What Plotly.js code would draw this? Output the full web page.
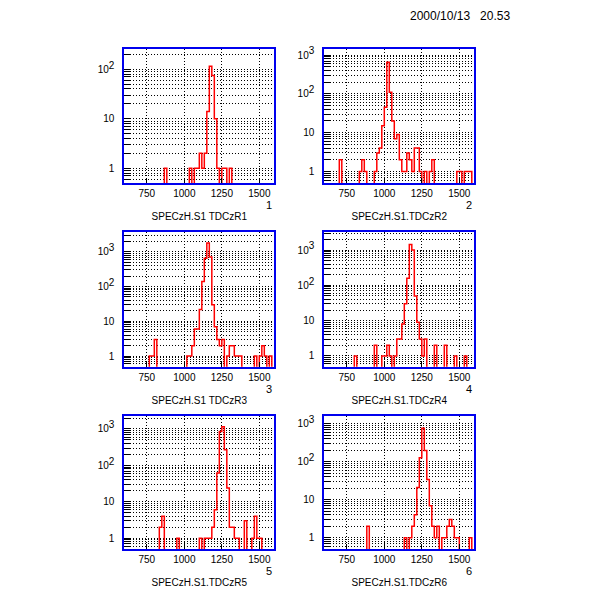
<!DOCTYPE html>
<html>
<head>
<meta charset="utf-8">
<script src="https://cdn.plot.ly/plotly-3.0.1.min.js"></script>
<style>
  body { margin: 0; background: #fff; }
  #chart { width: 600px; height: 600px; }
</style>
</head>
<body>
<div id="chart"></div>
<script>
// histogram binning (60 bins over the plotted range)
const binLo = 600;
const binHi = 1600;
const nBins = 60;

const xTickVals = [750, 1000, 1250, 1500];
const panelTitles = [
    'SPECzH.S1 TDCzR1', 'SPECzH.S1.TDCzR2',
    'SPECzH.S1 TDCzR3', 'SPECzH.S1.TDCzR4',
    'SPECzH.S1.TDCzR5', 'SPECzH.S1.TDCzR6'
];
const panelNumbers = ['1', '2', '3', '4', '5', '6'];
const dateStamp = '2000/10/13\u00a0\u00a0\u00a020.53';

// counts per bin
const countsR1 = [
    0, 0, 0, 0, 0, 0, 0, 0, 0, 0,
    0, 0, 0, 0, 0, 0, 1, 0, 0, 0,
    0, 0, 0, 0, 0, 0, 1, 0, 1, 1,
    2, 1, 2, 14, 115, 75, 10, 1, 0, 1,
    1, 0, 1, 0, 0, 0, 0, 0, 0, 0,
    0, 0, 0, 0, 0, 0, 0, 0, 0, 0
];
const countsR2 = [
    0, 0, 0, 0, 0, 0, 2, 0, 0, 0,
    0, 0, 0, 0, 1, 2, 1, 0, 0, 0,
    1, 3, 4, 15, 45, 650, 110, 20, 7, 9,
    2, 1, 1, 3, 2, 1, 4, 4, 1, 0,
    1, 0, 1, 2, 0, 0, 0, 0, 0, 0,
    0, 0, 0, 1, 1, 0, 1, 1, 1, 0
];
const countsR3 = [
    0, 0, 0, 0, 0, 0, 0, 0, 0, 0,
    1, 1, 3, 0, 0, 0, 0, 0, 0, 0,
    0, 0, 0, 0, 0, 1, 1, 2, 6, 6,
    22, 140, 650, 1770, 700, 30, 7, 3, 2, 3,
    0, 1, 2, 2, 1, 1, 1, 0, 0, 0,
    0, 0, 1, 0, 1, 2, 1, 0, 1, 0
];
const countsR4 = [
    0, 0, 0, 0, 0, 0, 0, 0, 0, 0,
    0, 0, 1, 0, 0, 0, 0, 0, 0, 0,
    2, 0, 0, 1, 1, 2, 1, 0, 1, 3,
    3, 8, 30, 160, 1450, 1000, 50, 9, 3, 1,
    3, 0, 0, 0, 2, 0, 0, 0, 2, 0,
    0, 0, 1, 0, 0, 0, 1, 0, 0, 0
];
const countsR5 = [
    0, 0, 0, 0, 0, 0, 0, 0, 0, 0,
    0, 0, 0, 0, 2, 4, 0, 0, 0, 0,
    0, 1, 0, 0, 0, 0, 0, 0, 0, 0,
    1, 0, 1, 1, 1, 2, 6, 62, 850, 1150,
    270, 24, 2, 2, 1, 1, 0, 0, 3, 0,
    0, 1, 4, 1, 1, 0, 0, 0, 0, 0
];
const countsR6 = [
    0, 0, 0, 0, 0, 0, 0, 0, 0, 0,
    0, 0, 0, 0, 0, 0, 0, 2, 0, 0,
    0, 0, 0, 0, 0, 0, 0, 0, 0, 0,
    0, 0, 1, 0, 1, 2, 4, 21, 127, 770,
    200, 34, 7, 2, 1, 2, 0, 1, 1, 2,
    3, 2, 1, 1, 0, 0, 0, 0, 1, 0
];
const panelCounts = [countsR1, countsR2, countsR3, countsR4, countsR5, countsR6];

// log10 of the top of each y axis (bottom is 0.5 for all)
const yTops = [2.41, 3.155, 3.575, 3.52, 3.37, 3.22];
const yBottom = -0.305;

// frame positions in paper coords
const colDomains = [[0.2072, 0.4572], [0.5405, 0.7905]];
const rowDomains = [[0.6945, 0.9183], [0.3888, 0.6138], [0.0845, 0.3075]];

const frameColor = '#0000ee';
const fontFamily = 'Liberation Sans, Arial, sans-serif';

// Build step line for a histogram (empty bins drop below the axis)
function histTrace(counts, idx) {
    const step = (binHi - binLo) / nBins;
    const xs = [];
    const ys = [];
    for (let i = 0; i < counts.length; i++) {
        xs.push(binLo + i * step);
        ys.push(counts[i] > 0 ? counts[i] : 0.01);
    }
    xs.push(binHi);
    ys.push(ys[ys.length - 1]);
    const suffix = idx === 0 ? '' : String(idx + 1);
    return {
        x: xs,
        y: ys,
        type: 'scatter',
        mode: 'lines',
        line: { shape: 'hv', color: '#ff0000', width: 1.5 },
        xaxis: 'x' + suffix,
        yaxis: 'y' + suffix,
        hoverinfo: 'skip'
    };
}

// Log ticks at every 1..9 of each decade, labels only on decades
function logTicks(top) {
    const vals = [];
    const text = [];
    const maxVal = Math.pow(10, top);
    for (let d = -1; d <= 4; d++) {
        for (let m = 1; m <= 9; m++) {
            const v = Number((m * Math.pow(10, d)).toPrecision(3));
            if (v < 0.5 || v > maxVal) continue;
            vals.push(v);
            if (m !== 1 || d < 0) text.push('');
            else if (d === 0) text.push('1');
            else if (d === 1) text.push('10');
            else text.push('10<sup><span style="font-size:10px">' + d + '</span></sup>');
        }
    }
    return { vals: vals, text: text };
}

const traces = panelCounts.map(histTrace);

const layout = {
    width: 600,
    height: 600,
    margin: { l: 0, r: 0, t: 0, b: 0 },
    paper_bgcolor: '#ffffff',
    plot_bgcolor: '#ffffff',
    showlegend: false,
    font: { family: fontFamily, size: 10, color: '#000000' },
    annotations: []
};

for (let i = 0; i < 6; i++) {
    const row = Math.floor(i / 2);
    const col = i % 2;
    const suffix = i === 0 ? '' : String(i + 1);
    const ticks = logTicks(yTops[i]);

    layout['xaxis' + suffix] = {
        domain: colDomains[col],
        anchor: 'y' + suffix,
        range: [binLo, binHi],
        tickvals: xTickVals,
        ticktext: xTickVals.map(String),
        ticks: 'inside',
        ticklen: 5,
        tickcolor: '#000000',
        showgrid: true,
        gridcolor: '#000000',
        gridwidth: 1,
        griddash: '1px,2px',
        zeroline: false,
        showline: true,
        linecolor: frameColor,
        linewidth: 2,
        mirror: true,
        tickfont: { size: 10 },
        title: { text: panelTitles[i], font: { size: 10 }, standoff: 15 }
    };
    layout['yaxis' + suffix] = {
        domain: rowDomains[row],
        anchor: 'x' + suffix,
        type: 'log',
        range: [yBottom, yTops[i]],
        tickvals: ticks.vals,
        ticktext: ticks.text,
        ticks: 'inside',
        ticklen: 6,
        tickcolor: '#000000',
        ticklabelstandoff: 6,
        showgrid: true,
        gridcolor: '#000000',
        gridwidth: 1,
        griddash: '1px,2px',
        zeroline: false,
        showline: true,
        linecolor: frameColor,
        linewidth: 2,
        mirror: true,
        tickfont: { size: 10 }
    };

    // panel number below the bottom right corner
    layout.annotations.push({
        text: panelNumbers[i],
        xref: 'paper',
        yref: 'paper',
        x: colDomains[col][1],
        y: rowDomains[row][0] - 22 / 600,
        xanchor: 'right',
        yanchor: 'middle',
        showarrow: false,
        font: { size: 11 }
    });
}

layout.annotations.push({
    text: dateStamp,
    xref: 'paper',
    yref: 'paper',
    x: 512 / 600,
    y: 1 - 16 / 600,
    xanchor: 'right',
    yanchor: 'middle',
    showarrow: false,
    font: { size: 12 }
});

Plotly.newPlot('chart', traces, layout, { staticPlot: true });
</script>
</body>
</html>
